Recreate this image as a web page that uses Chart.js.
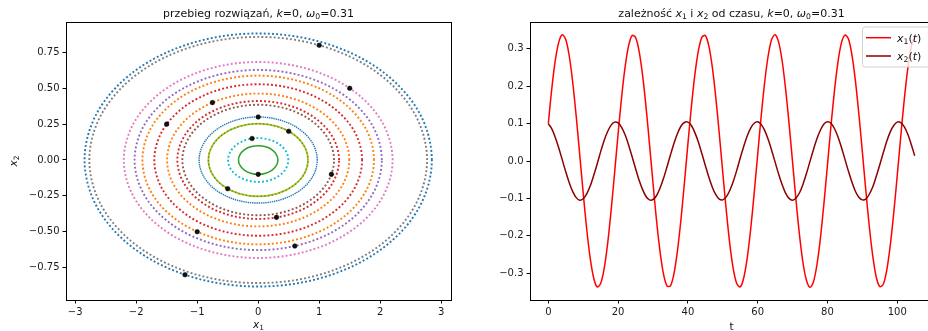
<!DOCTYPE html>
<html>
<head>
<meta charset="utf-8">
<script src="https://cdn.jsdelivr.net/npm/chart.js@4"></script>
<style>
    html, body { margin: 0; padding: 0; background: #fff; width: 928px; height: 331px; overflow: hidden; }
    canvas { position: absolute; top: 0; }
    #phase-chart { left: 0; }
    #time-chart { left: 470px; }
</style>
</head>
<body>
<canvas id="phase-chart" width="470" height="331"></canvas>
<canvas id="time-chart" width="480" height="331"></canvas>
<script>
// Phase portrait: orbits (x1, x2 pairs), in plotting order
const orbit1 = [[2.846,0],[2.629,0.338],[2.012,0.624],[1.089,0.815],[0,0.882],[-1.089,0.815],[-2.012,0.624],[-2.629,0.338],[-2.846,0],[-2.629,-0.338],[-2.012,-0.624],[-1.089,-0.815],[0,-0.882],[1.089,-0.815],[2.012,-0.624],[2.629,-0.338]];
const orbit2 = [[1.898,0],[1.754,0.225],[1.342,0.416],[0.726,0.543],[0,0.588],[-0.726,0.543],[-1.342,0.416],[-1.754,0.225],[-1.898,0],[-1.754,-0.225],[-1.342,-0.416],[-0.726,-0.543],[0,-0.588],[0.726,-0.543],[1.342,-0.416],[1.754,-0.225]];
const orbit3 = [[0.323,0],[0.298,0.038],[0.228,0.071],[0.124,0.092],[0,0.100],[-0.124,0.092],[-0.228,0.071],[-0.298,0.038],[-0.323,0],[-0.298,-0.038],[-0.228,-0.071],[-0.124,-0.092],[0,-0.100],[0.124,-0.092],[0.228,-0.071],[0.298,-0.038]];
const orbit4 = [[1.703,0],[1.573,0.202],[1.204,0.373],[0.652,0.488],[0,0.528],[-0.652,0.488],[-1.204,0.373],[-1.573,0.202],[-1.703,0],[-1.573,-0.202],[-1.204,-0.373],[-0.652,-0.488],[0,-0.528],[0.652,-0.488],[1.204,-0.373],[1.573,-0.202]];
const orbit5 = [[2.026,0],[1.872,0.240],[1.433,0.444],[0.775,0.580],[0,0.628],[-0.775,0.580],[-1.433,0.444],[-1.872,0.240],[-2.026,0],[-1.872,-0.240],[-1.433,-0.444],[-0.775,-0.580],[0,-0.628],[0.775,-0.580],[1.433,-0.444],[1.872,-0.240]];
const orbit6 = [[1.243,0],[1.148,0.147],[0.879,0.272],[0.476,0.356],[0,0.385],[-0.476,0.356],[-0.879,0.272],[-1.148,0.147],[-1.243,0],[-1.148,-0.147],[-0.879,-0.272],[-0.476,-0.356],[0,-0.385],[0.476,-0.356],[0.879,-0.272],[1.148,-0.147]];
const orbit7 = [[2.203,0],[2.035,0.261],[1.558,0.483],[0.843,0.631],[0,0.683],[-0.843,0.631],[-1.558,0.483],[-2.035,0.261],[-2.203,0],[-2.035,-0.261],[-1.558,-0.483],[-0.843,-0.631],[0,-0.683],[0.843,-0.631],[1.558,-0.483],[2.035,-0.261]];
const orbit8 = [[2.768,0],[2.557,0.328],[1.957,0.607],[1.059,0.793],[0,0.858],[-1.059,0.793],[-1.957,0.607],[-2.557,0.328],[-2.768,0],[-2.557,-0.328],[-1.957,-0.607],[-1.059,-0.793],[0,-0.858],[1.059,-0.793],[1.957,-0.607],[2.557,-0.328]];
const orbit9 = [[0.816,0],[0.754,0.097],[0.577,0.179],[0.312,0.234],[0,0.253],[-0.312,0.234],[-0.577,0.179],[-0.754,0.097],[-0.816,0],[-0.754,-0.097],[-0.577,-0.179],[-0.312,-0.234],[0,-0.253],[0.312,-0.234],[0.577,-0.179],[0.754,-0.097]];
const orbit10 = [[0.494,0],[0.456,0.059],[0.349,0.108],[0.189,0.141],[0,0.153],[-0.189,0.141],[-0.349,0.108],[-0.456,0.059],[-0.494,0],[-0.456,-0.059],[-0.349,-0.108],[-0.189,-0.141],[0,-0.153],[0.189,-0.141],[0.349,-0.108],[0.456,-0.059]];
const orbit11 = [[0.968,0],[0.894,0.115],[0.684,0.212],[0.370,0.277],[0,0.300],[-0.370,0.277],[-0.684,0.212],[-0.894,0.115],[-0.968,0],[-0.894,-0.115],[-0.684,-0.212],[-0.370,-0.277],[0,-0.300],[0.370,-0.277],[0.684,-0.212],[0.894,-0.115]];
const orbit12 = [[1.493,0],[1.379,0.177],[1.056,0.327],[0.571,0.428],[0,0.463],[-0.571,0.428],[-1.056,0.327],[-1.379,0.177],[-1.493,0],[-1.379,-0.177],[-1.056,-0.327],[-0.571,-0.428],[0,-0.463],[0.571,-0.428],[1.056,-0.327],[1.379,-0.177]];
const orbit13 = [[0.816,0],[0.754,0.097],[0.577,0.179],[0.312,0.234],[0,0.253],[-0.312,0.234],[-0.577,0.179],[-0.754,0.097],[-0.816,0],[-0.754,-0.097],[-0.577,-0.179],[-0.312,-0.234],[0,-0.253],[0.312,-0.234],[0.577,-0.179],[0.754,-0.097]];
const orbit14 = [[1.325,0],[1.224,0.157],[0.937,0.291],[0.507,0.380],[0,0.411],[-0.507,0.380],[-0.937,0.291],[-1.224,0.157],[-1.325,0],[-1.224,-0.157],[-0.937,-0.291],[-0.507,-0.380],[0,-0.411],[0.507,-0.380],[0.937,-0.291],[1.224,-0.157]];

// starting points (black dots)
const startX = [-1.2, -1.0, 0.0, -1.5, 0.6, 1.2, 1.5, 1.0, 0.5, -0.1, 0.0, -0.75, -0.5, 0.3];
const startY = [-0.8, -0.5, -0.1, 0.25, -0.6, -0.1, 0.5, 0.8, 0.2, 0.15, 0.3, 0.4, -0.2, -0.4];

const phaseXTicks = [-3, -2, -1, 0, 1, 2, 3];
const phaseYTicks = [-0.75, -0.5, -0.25, 0, 0.25, 0.5, 0.75];

// Time panel: x1(t), x2(t) read every 1 time unit
const timeSteps = [
    0, 1, 2, 3, 4, 5, 6, 7, 8, 9,
    10, 11, 12, 13, 14, 15, 16, 17, 18, 19,
    20, 21, 22, 23, 24, 25, 26, 27, 28, 29,
    30, 31, 32, 33, 34, 35, 36, 37, 38, 39,
    40, 41, 42, 43, 44, 45, 46, 47, 48, 49,
    50, 51, 52, 53, 54, 55, 56, 57, 58, 59,
    60, 61, 62, 63, 64, 65, 66, 67, 68, 69,
    70, 71, 72, 73, 74, 75, 76, 77, 78, 79,
    80, 81, 82, 83, 84, 85, 86, 87, 88, 89,
    90, 91, 92, 93, 94, 95, 96, 97, 98, 99,
    100, 101, 102, 103, 104, 105
];
const x1Values = [
    0.100, 0.194, 0.269, 0.318, 0.338, 0.325, 0.281, 0.210, 0.119, 0.017,
    -0.086, -0.182, -0.260, -0.313, -0.337, -0.328, -0.288, -0.221, -0.132, -0.031,
    0.073, 0.170, 0.251, 0.308, 0.336, 0.331, 0.295, 0.231, 0.145, 0.045,
    -0.059, -0.158, -0.241, -0.302, -0.334, -0.334, -0.302, -0.241, -0.158, -0.059,
    0.045, 0.145, 0.231, 0.295, 0.331, 0.336, 0.308, 0.251, 0.170, 0.073,
    -0.031, -0.132, -0.221, -0.288, -0.328, -0.337, -0.313, -0.260, -0.182, -0.086,
    0.017, 0.119, 0.210, 0.281, 0.325, 0.338, 0.318, 0.269, 0.193, 0.100,
    -0.003, -0.106, -0.199, -0.273, -0.320, -0.338, -0.323, -0.277, -0.205, -0.113,
    -0.011, 0.093, 0.187, 0.264, 0.316, 0.337, 0.327, 0.285, 0.216, 0.126,
    0.025, -0.079, -0.176, -0.255, -0.311, -0.336, -0.330, -0.292, -0.226, -0.139,
    -0.039, 0.065, 0.163, 0.246, 0.305, 0.335
];
const x2Values = [
    0.100, 0.086, 0.063, 0.035, 0.003, -0.029, -0.058, -0.082, -0.098, -0.105,
    -0.101, -0.088, -0.067, -0.039, -0.008, 0.025, 0.055, 0.079, 0.096, 0.104,
    0.102, 0.090, 0.070, 0.043, 0.012, -0.020, -0.051, -0.076, -0.095, -0.104,
    -0.103, -0.093, -0.073, -0.047, -0.016, 0.016, 0.047, 0.073, 0.093, 0.103,
    0.104, 0.095, 0.076, 0.051, 0.020, -0.012, -0.043, -0.070, -0.090, -0.102,
    -0.104, -0.096, -0.079, -0.055, -0.025, 0.008, 0.039, 0.067, 0.088, 0.101,
    0.105, 0.098, 0.082, 0.058, 0.029, -0.003, -0.035, -0.063, -0.086, -0.100,
    -0.105, -0.099, -0.085, -0.062, -0.033, -0.001, 0.031, 0.060, 0.083, 0.099,
    0.105, 0.101, 0.087, 0.065, 0.037, 0.005, -0.027, -0.056, -0.081, -0.097,
    -0.104, -0.102, -0.089, -0.069, -0.041, -0.010, 0.022, 0.053, 0.078, 0.095,
    0.104, 0.103, 0.092, 0.072, 0.045, 0.014
];

const timeXTicks = [0, 20, 40, 60, 80, 100];
const timeYTicks = [-0.3, -0.2, -0.1, 0, 0.1, 0.2, 0.3];

// ---- styles ----
const FONT = 'DejaVu Sans';
Chart.defaults.font.family = FONT;
Chart.defaults.font.size = 10;
Chart.defaults.color = '#222';

const tab10 = ['#1f77b4', '#ff7f0e', '#2ca02c', '#d62728', '#9467bd',
               '#8c564b', '#e377c2', '#7f7f7f', '#bcbd22', '#17becf'];
const dotted = [1.9, 2.2];

const orbits = [orbit1, orbit2, orbit3, orbit4, orbit5, orbit6, orbit7,
                orbit8, orbit9, orbit10, orbit11, orbit12, orbit13, orbit14];

// wrap a closed orbit so the spline runs smoothly through the seam,
// the two padding segments are hidden
function closeLoop(pts) {
    const n = pts.length;
    return [pts[n - 1], ...pts, pts[0], pts[1]].map(p => ({ x: p[0], y: p[1] }));
}

function orbitStyle(i) {
    if (i === 2) return { dash: [], width: 1.5, offset: 0 };          // small green, looks solid
    if (i === 8) return { dash: [], width: 1.8, offset: 0 };          // olive, solid
    if (i === 10) return { dash: [1.4, 0.8], width: 1.4, offset: 0 }; // blue 0.97, dense
    if (i === 12) return { dash: [1.2, 2.5], width: 1.4, offset: 1 }; // green over olive
    return { dash: dotted, width: 1.9, offset: 0 };
}

const orbitSets = orbits.map((pts, i) => {
    const data = closeLoop(pts);
    const st = orbitStyle(i);
    return {
        data,
        showLine: true,
        tension: 0.34,
        borderColor: tab10[i % 10],
        borderWidth: st.width,
        borderDash: st.dash,
        borderDashOffset: st.offset,
        borderCapStyle: 'butt',
        pointRadius: 0,
        order: orbits.length - i,
        segment: {
            borderColor: ctx => (ctx.p0DataIndex === 0 || ctx.p0DataIndex === data.length - 2)
                ? 'rgba(0,0,0,0)' : undefined
        }
    };
});

const markerSet = {
    data: startX.map((x, i) => ({ x, y: startY[i] })),
    showLine: false,
    pointRadius: 2.3,
    pointBackgroundColor: '#111',
    pointBorderColor: '#000',
    pointBorderWidth: 0.5,
    order: 0
};

function fmt(v, digits) {
    return (v < 0 ? '\u2212' : '') + Math.abs(v).toFixed(digits);
}

function axis(min, max, ticks, digits, isX, size) {
    return {
        type: 'linear',
        min, max,
        grid: { display: true, drawOnChartArea: false, drawTicks: true, tickLength: 3.5, tickColor: '#000', tickWidth: 1 },
        border: { display: false },
        ticks: { padding: 3, color: '#1a1a1a', font: { size: 10 }, maxRotation: 0, autoSkip: false,
                 callback: v => fmt(v, digits) },
        afterBuildTicks: s => { s.ticks = ticks.map(v => ({ value: v })); },
        afterFit: s => { if (isX) s.height = size; else s.width = size; }
    };
}

// rich text: runs of {t, it, sub}
function drawRich(ctx, runs, x, y, size, rotate) {
    const fontFor = r => (r.it ? 'italic ' : '') + (r.sub ? size * 0.7 : size) + 'px "' + FONT + '"';
    let w = 0;
    runs.forEach(r => { ctx.font = fontFor(r); r.w = ctx.measureText(r.t).width; w += r.w; });
    ctx.save();
    ctx.translate(x, y);
    if (rotate) ctx.rotate(-Math.PI / 2);
    ctx.textAlign = 'left';
    ctx.textBaseline = 'alphabetic';
    ctx.fillStyle = '#111';
    let cx = -w / 2;
    runs.forEach(r => {
        ctx.font = fontFor(r);
        ctx.fillText(r.t, cx, r.sub ? size * 0.22 : 0);
        cx += r.w;
    });
    ctx.restore();
    return w;
}

function framePlugin(cfg) {
    return {
        id: 'frame',
        afterDraw(chart) {
            const { ctx, chartArea: a } = chart;
            ctx.save();
            ctx.strokeStyle = '#000';
            ctx.lineWidth = 1;
            ctx.strokeRect(Math.round(a.left) + 0.5, Math.round(a.top) + 0.5,
                           Math.round(a.right - a.left), Math.round(a.bottom - a.top));
            ctx.restore();
            const cx = (a.left + a.right) / 2;
            drawRich(ctx, cfg.title, cx, 16.5, 11);
            if (cfg.xLabel) drawRich(ctx, cfg.xLabel, cx, cfg.xLabelY, 10.5);
            if (cfg.yLabel) drawRich(ctx, cfg.yLabel, cfg.yLabelX, (a.top + a.bottom) / 2, 10.5, true);
            if (cfg.legend) cfg.legend(chart);
        }
    };
}

function drawLegend(chart) {
    const ctx = chart.ctx;
    const left = 392, top = 26.5, w = 70, h = 40;
    ctx.save();
    ctx.beginPath();
    ctx.roundRect(left + 0.5, top + 0.5, w, h, 2.5);
    ctx.fillStyle = 'rgba(255,255,255,0.8)';
    ctx.fill();
    ctx.strokeStyle = '#d0d0d0';
    ctx.lineWidth = 1;
    ctx.stroke();
    const rows = [
        { color: chart.data.datasets[0].borderColor, y: 37.7, runs: [{ t: 'x', it: true }, { t: '1', sub: true }, { t: '(' }, { t: 't', it: true }, { t: ')' }] },
        { color: chart.data.datasets[1].borderColor, y: 56, runs: [{ t: 'x', it: true }, { t: '2', sub: true }, { t: '(' }, { t: 't', it: true }, { t: ')' }] }
    ];
    const fs = 11;
    rows.forEach(r => {
        ctx.strokeStyle = r.color;
        ctx.lineWidth = 1.5;
        ctx.beginPath();
        ctx.moveTo(396, r.y);
        ctx.lineTo(421, r.y);
        ctx.stroke();
        let wsum = 0;
        r.runs.forEach(q => { ctx.font = (q.it ? 'italic ' : '') + (q.sub ? fs * 0.7 : fs) + 'px "' + FONT + '"'; wsum += ctx.measureText(q.t).width; });
        drawRich(ctx, r.runs, 427 + wsum / 2, r.y + 3.8, fs);
    });
    ctx.restore();
}

const phaseChart = new Chart(document.getElementById('phase-chart'), {
    type: 'scatter',
    data: { datasets: [markerSet, ...orbitSets] },
    options: {
        responsive: false,
        animation: false,
        devicePixelRatio: 1,
        layout: { padding: { left: 0, right: 19, top: 22, bottom: 0 } },
        plugins: { legend: { display: false }, tooltip: { enabled: false } },
        scales: {
            x: axis(-3.15, 3.16, phaseXTicks, 0, true, 31),
            y: axis(-0.976, 0.962, phaseYTicks, 2, false, 66)
        }
    },
    plugins: [framePlugin({
        title: [{ t: 'przebieg rozwiązań, ' }, { t: 'k', it: true }, { t: '=0, ' }, { t: 'ω', it: true }, { t: '0', sub: true }, { t: '=0.31' }],
        xLabel: [{ t: 'x', it: true }, { t: '1', sub: true }],
        xLabelY: 327.5,
        yLabel: [{ t: 'x', it: true }, { t: '2', sub: true }],
        yLabelX: 17
    })]
});

const timeChart = new Chart(document.getElementById('time-chart'), {
    type: 'scatter',
    data: {
        datasets: [
            { label: 'x1(t)', data: timeSteps.map((t, i) => ({ x: t, y: x1Values[i] })),
              showLine: true, borderColor: '#ff0000', borderWidth: 1.5, pointRadius: 0, tension: 0.3, order: 2 },
            { label: 'x2(t)', data: timeSteps.map((t, i) => ({ x: t, y: x2Values[i] })),
              showLine: true, borderColor: '#8b0000', borderWidth: 1.5, pointRadius: 0, tension: 0.3, order: 1 }
        ]
    },
    options: {
        responsive: false,
        animation: false,
        devicePixelRatio: 1,
        layout: { padding: { left: 0, right: 17, top: 22, bottom: 0 } },
        plugins: { legend: { display: false }, tooltip: { enabled: false } },
        scales: {
            x: axis(-5.25, 110.25, timeXTicks, 0, true, 31),
            y: axis(-0.372, 0.372, timeYTicks, 1, false, 60)
        }
    },
    plugins: [framePlugin({
        title: [{ t: 'zależność ' }, { t: 'x', it: true }, { t: '1', sub: true }, { t: ' i ' }, { t: 'x', it: true }, { t: '2', sub: true },
                { t: ' od czasu, ' }, { t: 'k', it: true }, { t: '=0, ' }, { t: 'ω', it: true }, { t: '0', sub: true }, { t: '=0.31' }],
        xLabel: [{ t: 't' }],
        xLabelY: 329.5,
        legend: drawLegend
    })]
});
</script>
</body>
</html>
